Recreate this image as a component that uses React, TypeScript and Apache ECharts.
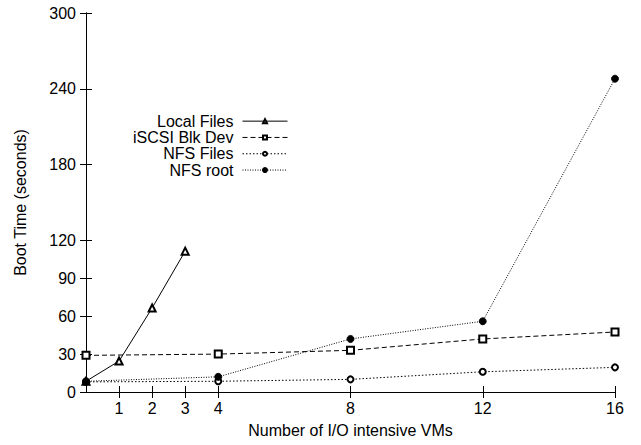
import React, { useEffect, useRef } from "react";
import * as echarts from "echarts";

const xTicks = [1, 2, 3, 4, 8, 12, 16];
const yTicks = [0, 30, 60, 90, 120, 180, 240, 300];

const localX = [0, 1, 2, 3];
const localY = [8.5, 24.5, 66.5, 111.5];

const vmX = [0, 4, 8, 12, 16];
const iscsiY = [29, 30, 33, 42, 47.5];
const nfsFilesY = [8, 8.5, 10, 16, 19.5];
const nfsRootY = [8.5, 12, 42, 56, 248];

const seriesNames = ["Local Files", "iSCSI Blk Dev", "NFS Files", "NFS root"];

const pairs = (xs: number[], ys: number[]) => xs.map((x, i) => [x, ys[i]]);

const FONT = "Liberation Sans, Arial, Helvetica, sans-serif";

export default function App() {
  const ref = useRef<HTMLDivElement>(null);
  useEffect(() => {
    if (!ref.current) return;
    const chart = echarts.init(ref.current, undefined, { renderer: "svg" });
    const axisLine = { show: true, lineStyle: { color: "#000", width: 1 } };
    const tickStyle = { color: "#000", width: 1 };
    const common = (extra: any) => ({
      type: "line",
      symbolKeepAspect: true,
      itemStyle: { color: "#000", borderColor: "#000", borderWidth: 0.9 },
      ...extra,
    });
    chart.setOption({
      animation: false,
      backgroundColor: "#fff",
      textStyle: { fontFamily: FONT },
      grid: { left: 86, top: 13, right: 26, bottom: 53 },
      legend: {
        orient: "vertical",
        align: "right",
        right: 641 - 293,
        top: 108,
        itemWidth: 45,
        itemHeight: 5,
        itemGap: 0,
        data: seriesNames,
        lineStyle: { width: 1 },
        textStyle: {
          fontFamily: FONT,
          fontSize: 16,
          color: "#000",
          width: 110,
          align: "right",
          lineHeight: 16.3,
          padding: [0, 4, 0, 0],
        },
      },
      xAxis: [
        {
          type: "value",
          min: 0,
          max: 16,
          position: "bottom",
          name: "Number of I/O intensive VMs",
          nameLocation: "middle",
          nameGap: 30,
          nameTextStyle: { fontFamily: FONT, fontSize: 16, color: "#000" },
          axisLine,
          splitLine: { show: false },
          axisTick: { show: true, inside: true, length: 6, lineStyle: tickStyle, customValues: xTicks },
          axisLabel: { show: true, fontFamily: FONT, fontSize: 16, color: "#000", margin: 8, customValues: xTicks },
        },
        {
          type: "value",
          min: 0,
          max: 16,
          position: "top",
          axisLine,
          splitLine: { show: false },
          axisTick: { show: true, inside: true, length: 6, lineStyle: tickStyle, customValues: xTicks },
          axisLabel: { show: false },
        },
      ],
      yAxis: [
        {
          type: "value",
          min: 0,
          max: 300,
          position: "left",
          name: "Boot Time (seconds)",
          nameLocation: "middle",
          nameGap: 58,
          nameRotate: 90,
          nameTextStyle: { fontFamily: FONT, fontSize: 16, color: "#000" },
          axisLine,
          splitLine: { show: false },
          axisTick: { show: true, inside: true, length: 6, lineStyle: tickStyle, customValues: yTicks },
          axisLabel: { show: true, fontFamily: FONT, fontSize: 16, color: "#000", margin: 10, customValues: yTicks },
        },
        {
          type: "value",
          min: 0,
          max: 300,
          position: "right",
          axisLine,
          splitLine: { show: false },
          axisTick: { show: true, inside: true, length: 6, lineStyle: tickStyle, customValues: yTicks },
          axisLabel: { show: false },
        },
      ],
      series: [
        common({
          name: seriesNames[0],
          data: pairs(localX, localY),
          symbol: "emptyTriangle",
          symbolSize: 7,
          lineStyle: { color: "#000", width: 1, type: "solid" },
        }),
        common({
          name: seriesNames[1],
          data: pairs(vmX, iscsiY),
          symbol: "emptyRect",
          symbolSize: 7,
          lineStyle: { color: "#000", width: 1, type: [5, 3] },
        }),
        common({
          name: seriesNames[2],
          data: pairs(vmX, nfsFilesY),
          symbol: "emptyCircle",
          symbolSize: 6,
          lineStyle: { color: "#000", width: 1, type: [1.5, 2] },
        }),
        common({
          name: seriesNames[3],
          data: pairs(vmX, nfsRootY),
          symbol: "circle",
          symbolSize: 7,
          lineStyle: { color: "#000", width: 1, type: [1, 1.5] },
        }),
      ],
    });
    return () => chart.dispose();
  }, []);
  return <div ref={ref} style={{ width: 641, height: 445, position: "absolute", left: 0, top: 0 }} />;
}
